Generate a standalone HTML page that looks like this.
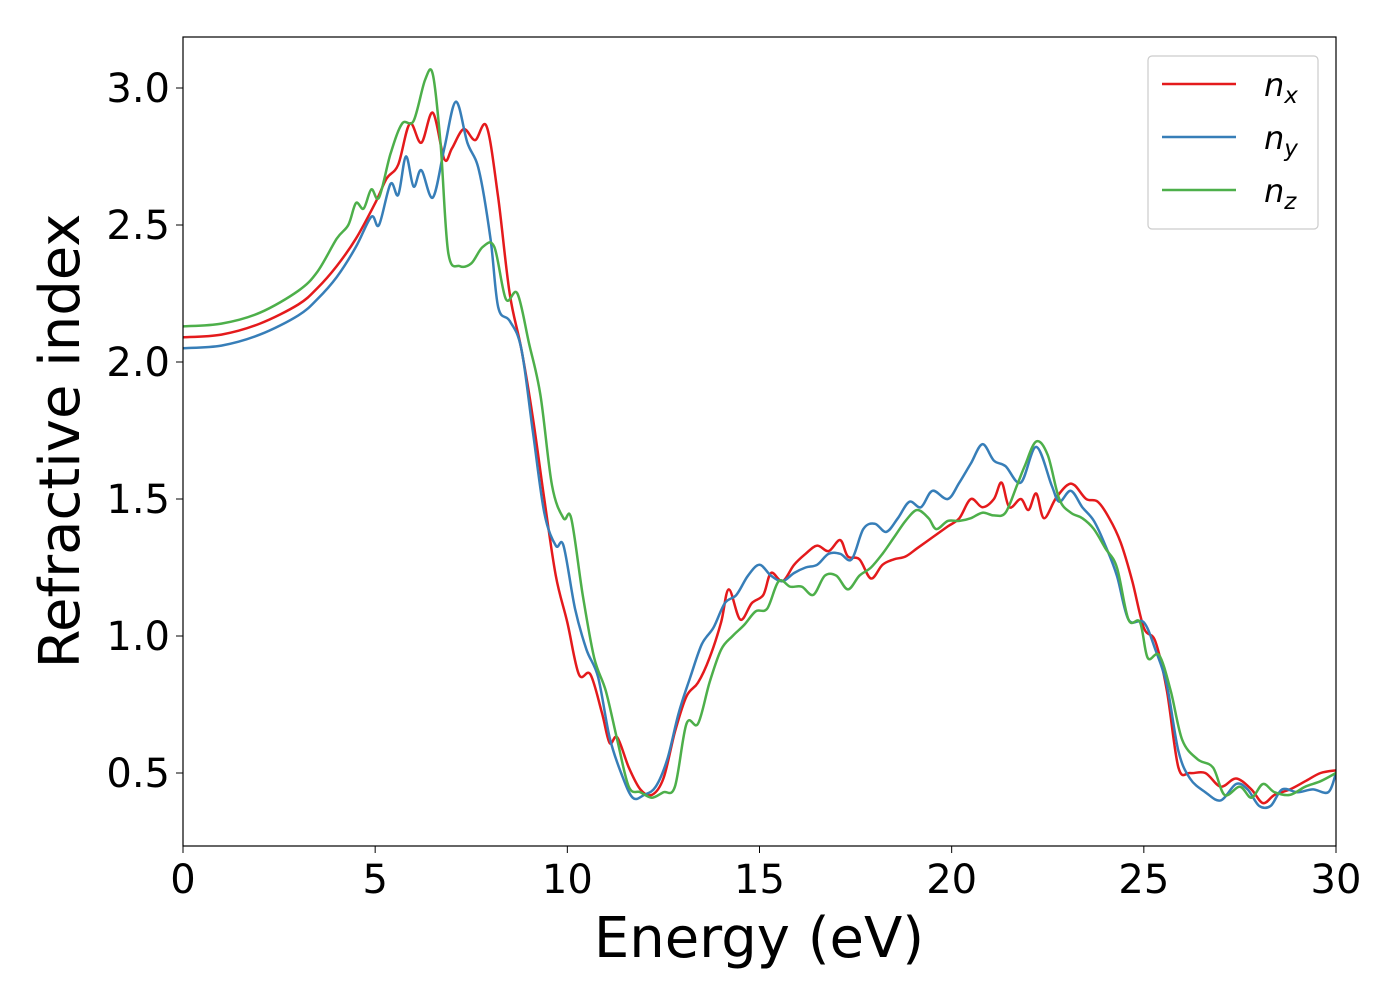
<!DOCTYPE html>
<html><head><meta charset="utf-8"><style>
html,body{margin:0;padding:0;background:#fff;}
svg{display:block;font-family:"DejaVu Sans","Liberation Sans",sans-serif;}
</style></head><body>
<svg id="chart" width="1400" height="1000" viewBox="0 0 1400 1000" xmlns="http://www.w3.org/2000/svg">
<rect x="0" y="0" width="1400" height="1000" fill="#fff"/>
<defs><clipPath id="clip"><rect x="183" y="37" width="1153" height="809"/></clipPath></defs>
<g id="series" clip-path="url(#clip)"></g>
<rect x="183" y="37" width="1153" height="809" fill="none" stroke="#000" stroke-width="1.2"/>
<g id="xticks"></g><g id="yticks"></g>
<text x="759" y="957" font-size="56" text-anchor="middle">Energy (eV)</text>
<text transform="translate(79,441) rotate(-90)" font-size="56" text-anchor="middle">Refractive index</text>
<g>
<rect x="1148" y="56" width="170" height="173" rx="4" fill="#fff" stroke="#ccc" stroke-width="1.2"/>
<line x1="1162" y1="84" x2="1236" y2="84" stroke="#e41a1c" stroke-width="2.5"/>
<text x="1264" y="96" font-size="32" font-style="italic">n<tspan font-size="23" dy="7">x</tspan></text>
<line x1="1162" y1="137" x2="1236" y2="137" stroke="#377eb8" stroke-width="2.5"/>
<text x="1264" y="149" font-size="32" font-style="italic">n<tspan font-size="23" dy="7">y</tspan></text>
<line x1="1162" y1="190" x2="1236" y2="190" stroke="#4daf4a" stroke-width="2.5"/>
<text x="1264" y="202" font-size="32" font-style="italic">n<tspan font-size="23" dy="7">z</tspan></text>
</g>
</svg>
<script>
const xTicks=[0,5,10,15,20,25,30];
const yTicks=[0.5,1.0,1.5,2.0,2.5,3.0];
const nxE=[0,1,2,3,3.5,4,4.5,5,5.3,5.6,5.9,6.2,6.5,6.8,7.0,7.3,7.6,7.9,8.2,8.5,8.8,9.1,9.4,9.7,10.0,10.3,10.6,10.9,11.1,11.3,11.6,11.9,12.2,12.5,12.8,13.1,13.4,13.7,14.0,14.2,14.5,14.8,15.1,15.3,15.6,15.9,16.2,16.5,16.8,17.1,17.3,17.6,17.9,18.2,18.5,18.8,19.1,19.5,19.9,20.2,20.5,20.8,21.1,21.3,21.5,21.8,22.0,22.2,22.4,22.7,23.0,23.2,23.5,23.8,24.1,24.4,24.7,25.0,25.3,25.6,25.9,26.2,26.6,27.0,27.4,27.8,28.1,28.4,28.8,29.2,29.6,30];
const nxV=[2.09,2.10,2.14,2.21,2.27,2.35,2.45,2.58,2.67,2.72,2.87,2.80,2.91,2.74,2.78,2.85,2.81,2.86,2.60,2.25,2.05,1.80,1.50,1.22,1.05,0.86,0.86,0.72,0.61,0.63,0.52,0.44,0.42,0.48,0.65,0.78,0.83,0.92,1.05,1.17,1.06,1.12,1.15,1.23,1.20,1.26,1.30,1.33,1.31,1.35,1.29,1.28,1.21,1.26,1.28,1.29,1.32,1.36,1.40,1.43,1.50,1.47,1.50,1.56,1.47,1.50,1.46,1.52,1.43,1.50,1.55,1.55,1.50,1.49,1.43,1.34,1.20,1.03,0.98,0.80,0.52,0.50,0.50,0.45,0.48,0.44,0.39,0.42,0.44,0.47,0.50,0.51];
const nyE=[0,1,2,3,3.5,4,4.5,4.9,5.1,5.4,5.6,5.8,6.0,6.2,6.5,6.8,7.1,7.4,7.7,8.0,8.2,8.5,8.8,9.1,9.4,9.7,9.9,10.2,10.5,10.8,11.1,11.4,11.7,12.0,12.3,12.6,12.9,13.2,13.5,13.8,14.1,14.4,14.7,15.0,15.3,15.6,15.9,16.2,16.5,16.8,17.1,17.4,17.7,18.0,18.3,18.6,18.9,19.2,19.5,19.9,20.2,20.5,20.8,21.1,21.4,21.8,22.2,22.6,22.8,23.1,23.4,23.7,24.0,24.3,24.6,25.0,25.3,25.6,25.9,26.2,26.6,27.0,27.4,27.7,28.0,28.3,28.6,29.0,29.4,29.8,30];
const nyV=[2.05,2.06,2.10,2.17,2.23,2.31,2.42,2.53,2.50,2.65,2.61,2.75,2.64,2.70,2.60,2.78,2.95,2.80,2.70,2.45,2.20,2.15,2.05,1.75,1.45,1.33,1.33,1.10,0.95,0.85,0.63,0.50,0.41,0.42,0.45,0.55,0.72,0.85,0.97,1.03,1.12,1.15,1.22,1.26,1.22,1.20,1.23,1.25,1.26,1.30,1.30,1.28,1.39,1.41,1.38,1.43,1.49,1.47,1.53,1.50,1.56,1.63,1.70,1.64,1.62,1.56,1.69,1.55,1.49,1.53,1.47,1.42,1.33,1.22,1.06,1.05,0.95,0.82,0.58,0.48,0.43,0.40,0.46,0.44,0.38,0.38,0.44,0.43,0.44,0.43,0.50];
const nzE=[0,1,2,3,3.5,4,4.3,4.5,4.7,4.9,5.1,5.4,5.7,6.0,6.3,6.5,6.7,6.9,7.2,7.5,7.8,8.1,8.4,8.7,9.0,9.3,9.6,9.9,10.1,10.4,10.7,11.0,11.3,11.6,11.9,12.2,12.5,12.8,13.1,13.4,13.7,14.0,14.3,14.6,14.9,15.2,15.5,15.8,16.1,16.4,16.7,17.0,17.3,17.6,17.9,18.2,18.5,18.8,19.1,19.4,19.6,19.9,20.2,20.5,20.8,21.1,21.4,21.7,21.9,22.2,22.5,22.8,23.1,23.4,23.7,24.0,24.3,24.6,24.9,25.1,25.4,25.7,26.0,26.4,26.8,27.1,27.5,27.8,28.1,28.4,28.8,29.2,29.6,30];
const nzV=[2.13,2.14,2.18,2.26,2.33,2.45,2.50,2.58,2.56,2.63,2.60,2.76,2.87,2.88,3.03,3.05,2.80,2.40,2.35,2.36,2.42,2.42,2.23,2.25,2.07,1.88,1.55,1.43,1.43,1.15,0.92,0.80,0.62,0.45,0.43,0.41,0.43,0.45,0.68,0.68,0.83,0.95,1.00,1.04,1.09,1.10,1.20,1.18,1.18,1.15,1.22,1.22,1.17,1.22,1.25,1.30,1.36,1.42,1.46,1.43,1.39,1.42,1.42,1.43,1.45,1.44,1.45,1.55,1.62,1.71,1.66,1.50,1.45,1.43,1.39,1.32,1.25,1.06,1.05,0.92,0.93,0.80,0.62,0.55,0.52,0.42,0.45,0.41,0.46,0.43,0.42,0.45,0.47,0.50];

const NS='http://www.w3.org/2000/svg';
function xs(v){return 183+v*(1153/30);}
function ys(v){return 910-v*274;}
function pathFor(E,V){
  const p=E.map((e,i)=>[xs(e),ys(V[i])]);
  let d='M'+p[0][0].toFixed(1)+','+p[0][1].toFixed(1);
  for(let i=0;i<p.length-1;i++){
    const p0=p[i-1]||p[i],p1=p[i],p2=p[i+1],p3=p[i+2]||p2;
    const c1=[p1[0]+(p2[0]-p0[0])/6,p1[1]+(p2[1]-p0[1])/6];
    const c2=[p2[0]-(p3[0]-p1[0])/6,p2[1]-(p3[1]-p1[1])/6];
    d+='C'+c1[0].toFixed(1)+','+c1[1].toFixed(1)+' '+c2[0].toFixed(1)+','+c2[1].toFixed(1)+' '+p2[0].toFixed(1)+','+p2[1].toFixed(1);
  }
  return d;
}
const g=document.getElementById('series');
[[nxE,nxV,'#e41a1c','series-nx'],[nyE,nyV,'#377eb8','series-ny'],[nzE,nzV,'#4daf4a','series-nz']].forEach(s=>{
  const el=document.createElementNS(NS,'path');
  el.setAttribute('d',pathFor(s[0],s[1]));
  el.setAttribute('fill','none');
  el.setAttribute('stroke',s[2]);
  el.setAttribute('stroke-width','2.5');
  
  
  g.appendChild(el);
});
const xt=document.getElementById('xticks');
xTicks.forEach(t=>{
  const l=document.createElementNS(NS,'line');
  l.setAttribute('x1',xs(t));l.setAttribute('x2',xs(t));l.setAttribute('y1',846);l.setAttribute('y2',853);l.setAttribute('stroke','#000');
  
  
  xt.appendChild(l);
  const tx=document.createElementNS(NS,'text');
  tx.setAttribute('x',xs(t));tx.setAttribute('y',893);tx.setAttribute('font-size','40');tx.setAttribute('text-anchor','middle');
  tx.textContent=String(t);
  
  
  xt.appendChild(tx);
});
const yt=document.getElementById('yticks');
yTicks.forEach(t=>{
  const l=document.createElementNS(NS,'line');
  l.setAttribute('x1',176);l.setAttribute('x2',183);l.setAttribute('y1',ys(t));l.setAttribute('y2',ys(t));l.setAttribute('stroke','#000');
  
  
  yt.appendChild(l);
  const tx=document.createElementNS(NS,'text');
  tx.setAttribute('x',170);tx.setAttribute('y',ys(t)+14);tx.setAttribute('font-size','40');tx.setAttribute('text-anchor','end');
  tx.textContent=t.toFixed(1);
  
  
  yt.appendChild(tx);
});
</script>
</body></html>
